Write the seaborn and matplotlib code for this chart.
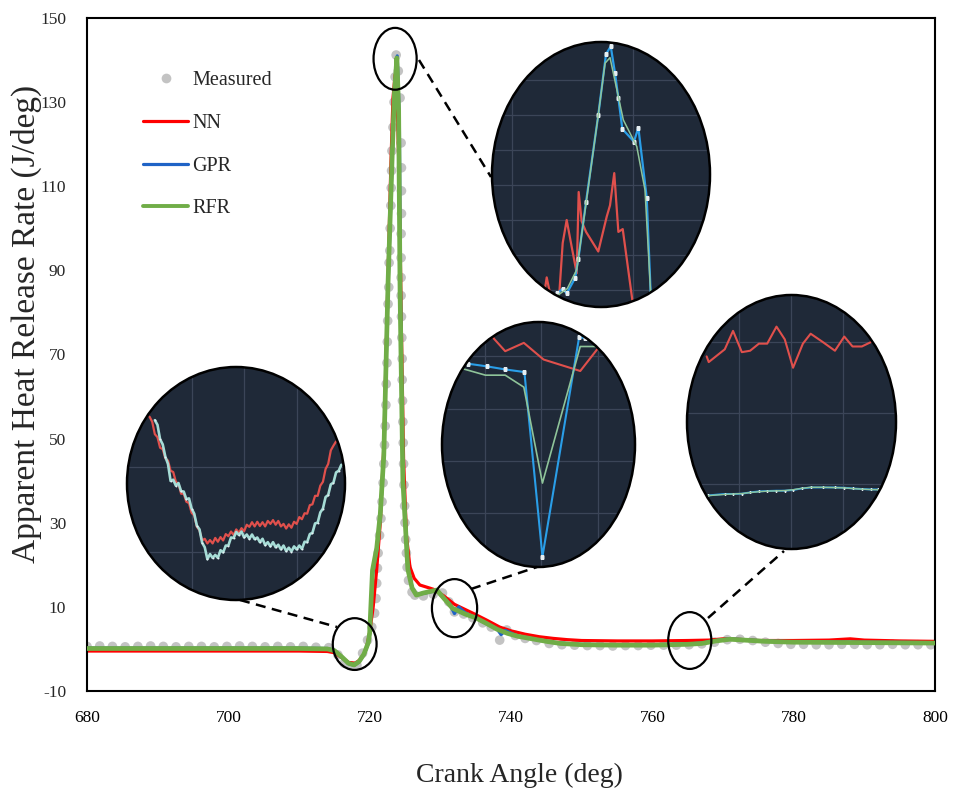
import matplotlib
matplotlib.use("Agg")
import matplotlib.pyplot as plt
import seaborn as sns
from matplotlib.patches import Ellipse
from matplotlib.lines import Line2D
from matplotlib.ticker import MultipleLocator

# ---------------- measured heat release rate ----------------
meas_angle = [680.0, 681.8, 683.6, 685.4, 687.2, 689.0, 690.8, 692.6, 694.4, 696.2,
              698.0, 699.8, 701.6, 703.4, 705.2, 707.0, 708.8, 710.6, 712.4, 714.2,
              715.5, 716.4, 717.3, 718.2, 719.0, 719.7, 720.3, 720.7, 720.9, 721.0,
              721.1, 721.2, 721.4, 721.6, 721.75, 721.9, 722.0, 722.1, 722.2, 722.3,
              722.35, 722.45, 722.5, 722.55, 722.6, 722.7, 722.75, 722.85, 722.9, 723.0,
              723.05, 723.1, 723.15, 723.3, 723.45, 723.6, 723.75, 724.05, 724.3, 724.45,
              724.5, 724.5, 724.5, 724.45, 724.45, 724.45, 724.45, 724.5, 724.55, 724.6,
              724.6, 724.65, 724.7, 724.75, 724.8, 724.85, 724.95, 725.0, 725.1, 725.2,
              725.3, 725.5, 726.0, 726.4, 727.6, 729.0, 730.3, 731.2, 732.0, 733.3,
              734.6, 736.0, 737.2, 738.4, 739.4, 740.6, 742.0, 743.6,
              745.4, 747.2, 749.0, 750.8, 752.6, 754.4, 756.2, 758.0, 759.8, 761.6,
              763.4, 765.2, 767.0, 768.8, 770.6, 772.4, 774.2, 776.0, 777.8, 779.6,
              781.4, 783.2, 785.0, 786.8, 788.6, 790.4, 792.2, 794.0, 795.8, 797.6, 799.4]
meas_rate = [0.6, 0.7, 0.6, 0.5, 0.6, 0.7, 0.6, 0.5, 0.6, 0.6,
             0.5, 0.6, 0.7, 0.6, 0.5, 0.6, 0.5, 0.6, 0.4, 0.3,
             -1.4, -3.4, -4.0, -3.9, -1.0, 2.1, 5.2, 8.5, 12.0, 15.6,
             19.2, 22.8, 27.0, 31.0, 35.0, 39.5, 44.0, 48.5, 53.0, 58.0,
             63.0, 68.0, 73.0, 78.0, 82.0, 86.0, 91.8, 94.7, 100.0, 105.4,
             109.6, 113.7, 118.4, 124.0, 130.0, 136.0, 141.2, 137.4, 131.0, 120.3,
             114.4, 108.9, 103.5, 98.7, 93.0, 88.3, 84.0, 79.0, 74.0, 69.0,
             64.0, 59.0, 54.0, 49.0, 44.0, 39.0, 34.0, 30.0, 26.0, 22.8,
             19.4, 16.3, 13.5, 12.8, 12.6, 13.0, 13.3, 11.2, 8.8, 8.3,
             7.4, 6.2, 5.2, 2.1, 4.5, 3.2, 2.5, 2.0,
             1.3, 1.0, 0.9, 0.8, 0.8, 0.7, 0.8, 0.8, 0.9, 0.9,
             0.9, 1.0, 1.2, 1.6, 2.2, 2.3, 2.0, 1.6, 1.3, 1.1,
             1.1, 1.0, 1.0, 1.1, 1.1, 1.0, 1.0, 1.1, 1.0, 1.0, 1.0]

# ---------------- model predictions ----------------
nn_angle = [680, 690, 700, 710, 714, 715, 716, 717, 718, 718.6, 719.2, 719.6, 720.0,
            720.5, 721.0, 721.5, 722.0, 722.5, 723.0, 723.3, 723.6, 723.9, 724.2,
            724.5, 724.8, 725.2, 725.7, 726.3, 727.1, 729.0, 730.5, 732.0, 734.6,
            736.5, 738.4, 740, 742, 744, 746, 748, 750, 755, 760, 765, 768, 770,
            772, 775, 780, 785, 788, 790, 795, 800]
nn_rate = [-0.5, -0.5, -0.5, -0.5, -0.6, -0.9, -2.0, -3.2, -3.4, -2.6, -1.2, 0.6, 4.0,
           10.0, 19.0, 30.0, 48.0, 82.0, 115.0, 131.0, 136.5, 130.0, 110.0,
           75.0, 45.0, 27.0, 19.5, 16.8, 15.2, 14.2, 12.6, 10.6, 8.5,
           6.9, 5.2, 4.3, 3.5, 2.9, 2.5, 2.2, 2.0, 1.9, 1.9, 2.0, 2.1, 2.4,
           2.3, 2.0, 2.0, 2.1, 2.4, 2.1, 1.9, 1.8]

gpr_angle = [680, 690, 700, 710, 714, 715, 716, 717, 717.8, 718.5, 719.2, 719.8, 720.0,
             720.4, 721.0, 721.5, 722.0, 722.6, 723.2, 723.5, 723.9, 724.2, 724.35,
             724.7, 725.4, 726.0, 726.6, 727.6, 729.5, 731.3, 732.0, 732.6, 733.5,
             735, 736.5, 738, 738.6, 739.2, 741, 743, 745, 747, 750, 755, 760, 765,
             767, 769, 771, 773, 776, 780, 790, 800]
gpr_rate = [0.2, 0.2, 0.2, 0.2, 0.1, -0.3, -1.9, -3.5, -3.9, -3.1, -1.3, 1.3, 3.5,
            17.5, 23.5, 31.5, 45.5, 86.0, 117.0, 131.0, 141.0, 126.0, 86.0,
            41.0, 19.5, 14.6, 12.9, 13.2, 13.9, 10.8, 8.4, 10.0, 8.6,
            7.4, 6.0, 4.8, 3.4, 4.4, 3.0, 2.4, 1.8, 1.4, 1.1, 1.0, 1.0, 1.2,
            1.4, 2.0, 2.4, 2.2, 1.9, 1.7, 1.6, 1.5]

rfr_angle = [680, 690, 700, 710, 714, 715, 716, 717, 717.8, 718.5, 719.2, 719.8, 720.0,
             720.4, 721.0, 721.5, 722.0, 722.6, 723.2, 723.5, 723.85, 724.1, 724.3,
             724.7, 725.4, 726.0, 726.6, 727.6, 729.5, 731.7, 733.5, 735, 736.5,
             738, 739.5, 741, 743, 745, 747, 750, 755, 760, 765, 767, 769, 771,
             773, 776, 780, 790, 800]
rfr_rate = [0.1, 0.1, 0.1, 0.1, 0.0, -0.4, -1.8, -3.4, -3.8, -3.0, -1.2, 1.5, 3.8,
            18.7, 24.0, 32.0, 46.0, 87.0, 118.0, 132.0, 140.5, 128.0, 85.0,
            40.0, 19.0, 14.5, 12.8, 13.3, 14.0, 9.7, 8.3, 7.4, 6.1,
            4.7, 3.7, 3.0, 2.4, 1.8, 1.3, 1.0, 0.9, 0.9, 1.1, 1.3, 1.9, 2.3,
            2.1, 1.8, 1.6, 1.5, 1.4]

# ---------------- zoomed views ----------------
# start of combustion (fine resolution)
z1_nn_angle = [716.20, 716.25, 716.30, 716.35, 716.40, 716.45, 716.50, 716.55, 716.60, 716.65,
               716.70, 716.75, 716.80, 716.85, 716.90, 716.95, 717.00, 717.05, 717.10, 717.15,
               717.20, 717.25, 717.30, 717.35, 717.40, 717.45, 717.50, 717.55, 717.60, 717.65,
               717.70, 717.75, 717.80, 717.85, 717.90, 717.95, 718.00, 718.05, 718.10, 718.15,
               718.20, 718.25, 718.30, 718.35, 718.40, 718.45, 718.50, 718.55, 718.60, 718.65,
               718.70, 718.75, 718.80, 718.85, 718.90, 718.95, 719.00, 719.05, 719.10, 719.15,
               719.20, 719.25, 719.30, 719.35, 719.40, 719.45, 719.50, 719.55, 719.60, 719.65,
               719.70, 719.75]
z1_nn_rate = [0.18, 0.06, -0.23, -0.30, -0.55, -0.58, -0.80, -0.85, -1.09, -1.12,
              -1.35, -1.40, -1.63, -1.63, -1.82, -1.85, -2.08, -2.14, -2.41, -2.49,
              -2.73, -2.69, -2.80, -2.72, -2.80, -2.67, -2.76, -2.65, -2.73, -2.58,
              -2.63, -2.52, -2.60, -2.47, -2.55, -2.44, -2.51, -2.36, -2.41, -2.30,
              -2.40, -2.29, -2.39, -2.30, -2.40, -2.27, -2.34, -2.25, -2.36, -2.27,
              -2.40, -2.34, -2.45, -2.35, -2.43, -2.29, -2.34, -2.18, -2.23, -2.09,
              -2.10, -1.90, -1.88, -1.68, -1.68, -1.44, -1.35, -1.05, -0.93, -0.61,
              -0.50, -0.40]
z1_gpr_angle = [716.30, 716.35, 716.40, 716.45, 716.50, 716.55, 716.60, 716.65, 716.70, 716.75,
                716.80, 716.85, 716.90, 716.95, 717.00, 717.05, 717.10, 717.15, 717.20, 717.25,
                717.30, 717.35, 717.40, 717.45, 717.50, 717.55, 717.60, 717.65, 717.70, 717.75,
                717.80, 717.85, 717.90, 717.95, 718.00, 718.05, 718.10, 718.15, 718.20, 718.25,
                718.30, 718.35, 718.40, 718.45, 718.50, 718.55, 718.60, 718.65, 718.70, 718.75,
                718.80, 718.85, 718.90, 718.95, 719.00, 719.05, 719.10, 719.15, 719.20, 719.25,
                719.30, 719.35, 719.40, 719.45, 719.50, 719.55, 719.60, 719.65, 719.70, 719.75,
                719.80, 719.85]
z1_gpr_rate = [0.10, -0.01, -0.35, -0.47, -0.76, -0.93, -1.33, -1.30, -1.44, -1.38,
               -1.57, -1.58, -1.76, -1.74, -1.98, -2.10, -2.38, -2.47, -2.78, -2.89,
               -3.17, -3.05, -3.14, -3.07, -3.14, -2.96, -3.01, -2.85, -2.85, -2.66,
               -2.67, -2.53, -2.60, -2.52, -2.66, -2.59, -2.69, -2.59, -2.70, -2.66,
               -2.77, -2.69, -2.84, -2.77, -2.87, -2.77, -2.89, -2.83, -2.94, -2.85,
               -2.98, -2.90, -2.99, -2.87, -2.94, -2.85, -2.93, -2.76, -2.77, -2.58,
               -2.55, -2.33, -2.31, -2.07, -1.98, -1.71, -1.66, -1.41, -1.37, -1.13,
               -1.09, -0.95]

# peak
z2_nn_angle = [723.24, 723.273, 723.287, 723.306, 723.33, 723.391, 723.419, 723.452,
               723.493, 723.535, 723.551, 723.576, 723.612, 723.713, 723.783, 723.810,
               723.845, 723.879, 723.915, 723.998, 724.03]
z2_nn_rate = [106.0, 110.2, 111.8, 110.2, 108.6, 109.5, 116.7, 120.0,
              116.2, 112.4, 124.0, 119.8, 118.3, 115.5, 120.5, 122.1,
              126.7, 118.3, 118.7, 108.1, 103.0]
z2_gpr_angle = [723.30, 723.374, 723.419, 723.452, 723.521, 723.548, 723.612, 723.713,
                723.777, 723.816, 723.851, 723.879, 723.912, 724.008, 724.044, 724.113,
                724.146, 724.18]
z2_gpr_rate = [104.0, 109.5, 110.2, 109.5, 111.7, 114.4, 122.6, 135.0,
               143.7, 144.8, 141.0, 137.4, 133.0, 131.2, 133.2, 123.2,
               109.5, 100.0]
z2_rfr_angle = [723.30, 723.383, 723.457, 723.535, 723.589, 723.713, 723.769, 723.810,
                723.837, 723.920, 724.031, 724.099, 724.146, 724.18]
z2_rfr_rate = [104.0, 109.3, 110.2, 112.9, 119.5, 135.0, 142.4, 143.2,
               141.0, 134.3, 130.5, 124.3, 109.5, 100.0]

# late combustion
z3_nn_angle = [730.92, 731.16, 731.36, 731.69, 732.04, 732.69, 733.00, 733.40]
z3_nn_rate = [11.79, 11.34, 11.10, 11.26, 10.94, 10.72, 11.15, 11.59]
z3_gpr_angle = [730.21, 730.70, 731.03, 731.36, 731.70, 732.02, 732.67, 732.78, 733.04, 733.40]
z3_gpr_rate = [10.90, 10.86, 10.81, 10.75, 10.70, 7.16, 11.37, 11.35, 11.50, 11.70]
z3_rfr_angle = [730.21, 730.62, 731.01, 731.36, 731.69, 732.02, 732.69, 732.99, 733.40]
z3_rfr_rate = [10.81, 10.76, 10.64, 10.64, 10.41, 8.57, 11.19, 11.19, 11.50]

# expansion stroke
z4_nn_angle = [764.37, 764.41, 764.72, 764.88, 765.05, 765.21, 765.38, 765.54, 765.72,
               765.88, 766.04, 766.23, 766.38, 766.62, 766.85, 767.03, 767.19, 767.37, 767.54]
z4_nn_rate = [1.90, 1.86, 1.95, 2.08, 1.93, 1.94, 1.99, 1.99, 2.11,
              2.02, 1.82, 1.99, 2.06, 2.00, 1.94, 2.04, 1.97, 1.97, 2.00]
z4_angle = [764.40, 764.72, 764.88, 765.05, 765.21, 765.38, 765.54, 765.72, 765.88, 766.04,
            766.21, 766.38, 766.62, 766.85, 767.03, 767.19, 767.37, 767.54, 767.69]
z4_gpr_rate = [0.920, 0.930, 0.930, 0.932, 0.941, 0.948, 0.951, 0.953, 0.953, 0.958,
               0.969, 0.976, 0.976, 0.976, 0.974, 0.969, 0.965, 0.962, 0.962]
z4_rfr_rate = [0.918, 0.927, 0.930, 0.933, 0.940, 0.946, 0.950, 0.952, 0.954, 0.960,
               0.970, 0.977, 0.977, 0.975, 0.973, 0.968, 0.964, 0.961, 0.960]

# ---------------- style ----------------
sns.set_style("white")
plt.rcParams["font.family"] = ["Liberation Serif", "DejaVu Serif"]
plt.rcParams["axes.unicode_minus"] = False

C_MEAS, C_NN, C_GPR, C_RFR = "#c3c3c3", "#ff0000", "#1f63c6", "#70ad47"
DARK, GRID = "#1f2938", "#3b4558"
Z_NN, Z_GPR, Z_RFR, Z_MK = "#e0504c", "#2a9ee8", "#8fc49a", "#e6eef2"

W, H = 954, 797
fig = plt.figure(figsize=(W / 100, H / 100), dpi=100)


def px_box(x0, y0, x1, y1):
    return [x0 / W, 1 - y1 / H, (x1 - x0) / W, (y1 - y0) / H]


ax = fig.add_axes(px_box(87, 18, 935, 691))

sns.scatterplot(x=meas_angle, y=meas_rate, ax=ax, color=C_MEAS, s=48,
                edgecolor="none", linewidth=0, zorder=1, legend=False)
sns.lineplot(x=nn_angle, y=nn_rate, ax=ax, color=C_NN, lw=2.3,
             estimator=None, sort=False, zorder=2)
sns.lineplot(x=gpr_angle, y=gpr_rate, ax=ax, color=C_GPR, lw=2.3,
             estimator=None, sort=False, zorder=3)
sns.lineplot(x=rfr_angle, y=rfr_rate, ax=ax, color=C_RFR, lw=3.4,
             estimator=None, sort=False, zorder=4)

ax.set_xlim(680, 800)
ax.set_ylim(-10, 150)
ax.set_xticks(range(680, 801, 20))
ax.xaxis.set_minor_locator(MultipleLocator(4))
ax.set_yticks(range(-10, 151, 20))
ax.tick_params(axis="x", which="major", direction="in", length=7, width=1.4,
               labelsize=12.5, pad=14, colors="black")
ax.tick_params(axis="x", which="minor", direction="in", length=6, width=1.4)
ax.tick_params(axis="y", which="both", length=0, labelsize=12.5, pad=15)
for s in ax.spines.values():
    s.set_visible(True)
    s.set_color("black")
    s.set_linewidth(1.5)

ax.set_xlabel("Crank Angle (deg)", fontsize=20)
ax.set_ylabel("Apparent Heat Release Rate (J/deg)", fontsize=24)
ax.xaxis.set_label_coords(0.51, -0.126)
ax.xaxis.label.set_va("center")
ax.yaxis.set_label_coords(-0.071, 0.546)
ax.yaxis.label.set_va("center")
ax.yaxis.label.set_ha("center")

handles = [
    Line2D([], [], ls="none", marker="o", ms=7, color=C_MEAS, mec="none"),
    Line2D([], [], color=C_NN, lw=2.3),
    Line2D([], [], color=C_GPR, lw=2.3),
    Line2D([], [], color=C_RFR, lw=2.8),
]
ax.legend(handles, ["Measured", "NN", "GPR", "RFR"], loc="upper left",
          bbox_to_anchor=(0.066, 0.921), frameon=False, fontsize=14.5,
          handlelength=2.25, handletextpad=0.2, labelspacing=1.17,
          borderpad=0, borderaxespad=0)

# outline the regions shown enlarged
for cx, cy, w, h in [(723.60, 140.3, 6.1, 14.7), (717.88, 1.16, 6.2, 12.3),
                     (732.01, 9.7, 6.4, 13.8), (765.30, 2.0, 6.1, 13.5)]:
    ax.add_patch(Ellipse((cx, cy), w, h, fill=False, ec="black", lw=1.6,
                         zorder=6, clip_on=False))

# dashed leader lines
for (x0, y0), (x1, y1) in [((419, 60), (491, 177)), ((240, 600), (337, 627)),
                           ((471, 589), (537, 567)), ((708, 618), (784, 551))]:
    fig.add_artist(Line2D([x0 / W, x1 / W], [1 - y0 / H, 1 - y1 / H],
                          transform=fig.transFigure, color="black", lw=1.8,
                          ls=(0, (4, 2.6))))


def zoom_view(box, xgrid, ygrid):
    axz = fig.add_axes(px_box(*box))
    axz.axis("off")
    oval = Ellipse((0.5, 0.5), 1, 1, transform=axz.transAxes, fc=DARK,
                   ec="none", zorder=0)
    axz.add_patch(oval)
    for gx in xgrid:
        axz.axvline(gx, color=GRID, lw=0.9, zorder=1).set_clip_path(oval)
    for gy in ygrid:
        axz.axhline(gy, color=GRID, lw=0.9, zorder=1).set_clip_path(oval)
    return axz, oval


def finish_view(axz, oval, xlim, ylim):
    for ln in axz.lines:
        ln.set_clip_path(oval)
    axz.set_xlim(*xlim)
    axz.set_ylim(*ylim)
    axz.add_patch(Ellipse((0.5, 0.5), 1, 1, transform=axz.transAxes,
                          fill=False, ec="black", lw=1.8, zorder=10,
                          clip_on=False))


# view 1: start of combustion
a1, o1 = zoom_view((127, 367, 345, 600), [717, 718, 719], [-3, -1])
sns.lineplot(x=z1_nn_angle, y=z1_nn_rate, ax=a1, color=Z_NN, lw=1.6,
             estimator=None, sort=False, zorder=3)
sns.lineplot(x=z1_gpr_angle, y=z1_gpr_rate, ax=a1, color="#a6dcd6", lw=1.9,
             estimator=None, sort=False, zorder=4, marker="o", ms=1.4,
             mfc=Z_MK, mec="none", markevery=2)
finish_view(a1, o1, (715.77, 719.92), (-4.13, 1.35))

# view 2: peak
a2, o2 = zoom_view((492, 42, 710, 307), [723, 724],
                   [110, 115, 120, 125, 130, 135, 140])
sns.lineplot(x=z2_nn_angle, y=z2_nn_rate, ax=a2, color=Z_NN, lw=1.6,
             estimator=None, sort=False, zorder=3)
sns.lineplot(x=z2_gpr_angle, y=z2_gpr_rate, ax=a2, color=Z_GPR, lw=1.6,
             estimator=None, sort=False, zorder=4, marker="s", ms=2.2,
             mfc=Z_MK, mec="none")
sns.lineplot(x=z2_rfr_angle, y=z2_rfr_rate, ax=a2, color=Z_RFR, lw=1.1,
             estimator=None, sort=False, zorder=5)
finish_view(a2, o2, (722.835, 724.636), (107.57, 145.43))

# view 3: late combustion
a3, o3 = zoom_view((442, 322, 635, 567), [731, 732, 733], [8, 9, 10, 11])
sns.lineplot(x=z3_nn_angle, y=z3_nn_rate, ax=a3, color=Z_NN, lw=1.5,
             estimator=None, sort=False, zorder=3)
sns.lineplot(x=z3_gpr_angle, y=z3_gpr_rate, ax=a3, color=Z_GPR, lw=1.5,
             estimator=None, sort=False, zorder=4, marker="s", ms=2.2,
             mfc=Z_MK, mec="none")
sns.lineplot(x=z3_rfr_angle, y=z3_rfr_rate, ax=a3, color=Z_RFR, lw=1.2,
             estimator=None, sort=False, zorder=5)
finish_view(a3, o3, (730.24, 733.66), (6.96, 11.66))

# view 4: expansion stroke
a4, o4 = zoom_view((687, 295, 896, 549), [765, 766, 767], [1.0, 1.5, 2.0])
sns.lineplot(x=z4_nn_angle, y=z4_nn_rate, ax=a4, color=Z_NN, lw=1.5,
             estimator=None, sort=False, zorder=3)
sns.lineplot(x=z4_angle, y=z4_gpr_rate, ax=a4, color=Z_GPR, lw=1.4,
             estimator=None, sort=False, zorder=4, marker="s", ms=2.0,
             mfc=Z_MK, mec="none")
sns.lineplot(x=z4_angle, y=z4_rfr_rate, ax=a4, color=Z_RFR, lw=1.0,
             estimator=None, sort=False, zorder=5)
finish_view(a4, o4, (763.99, 768.03), (0.542, 2.333))

fig.savefig("out.png", dpi=100, facecolor="white")
